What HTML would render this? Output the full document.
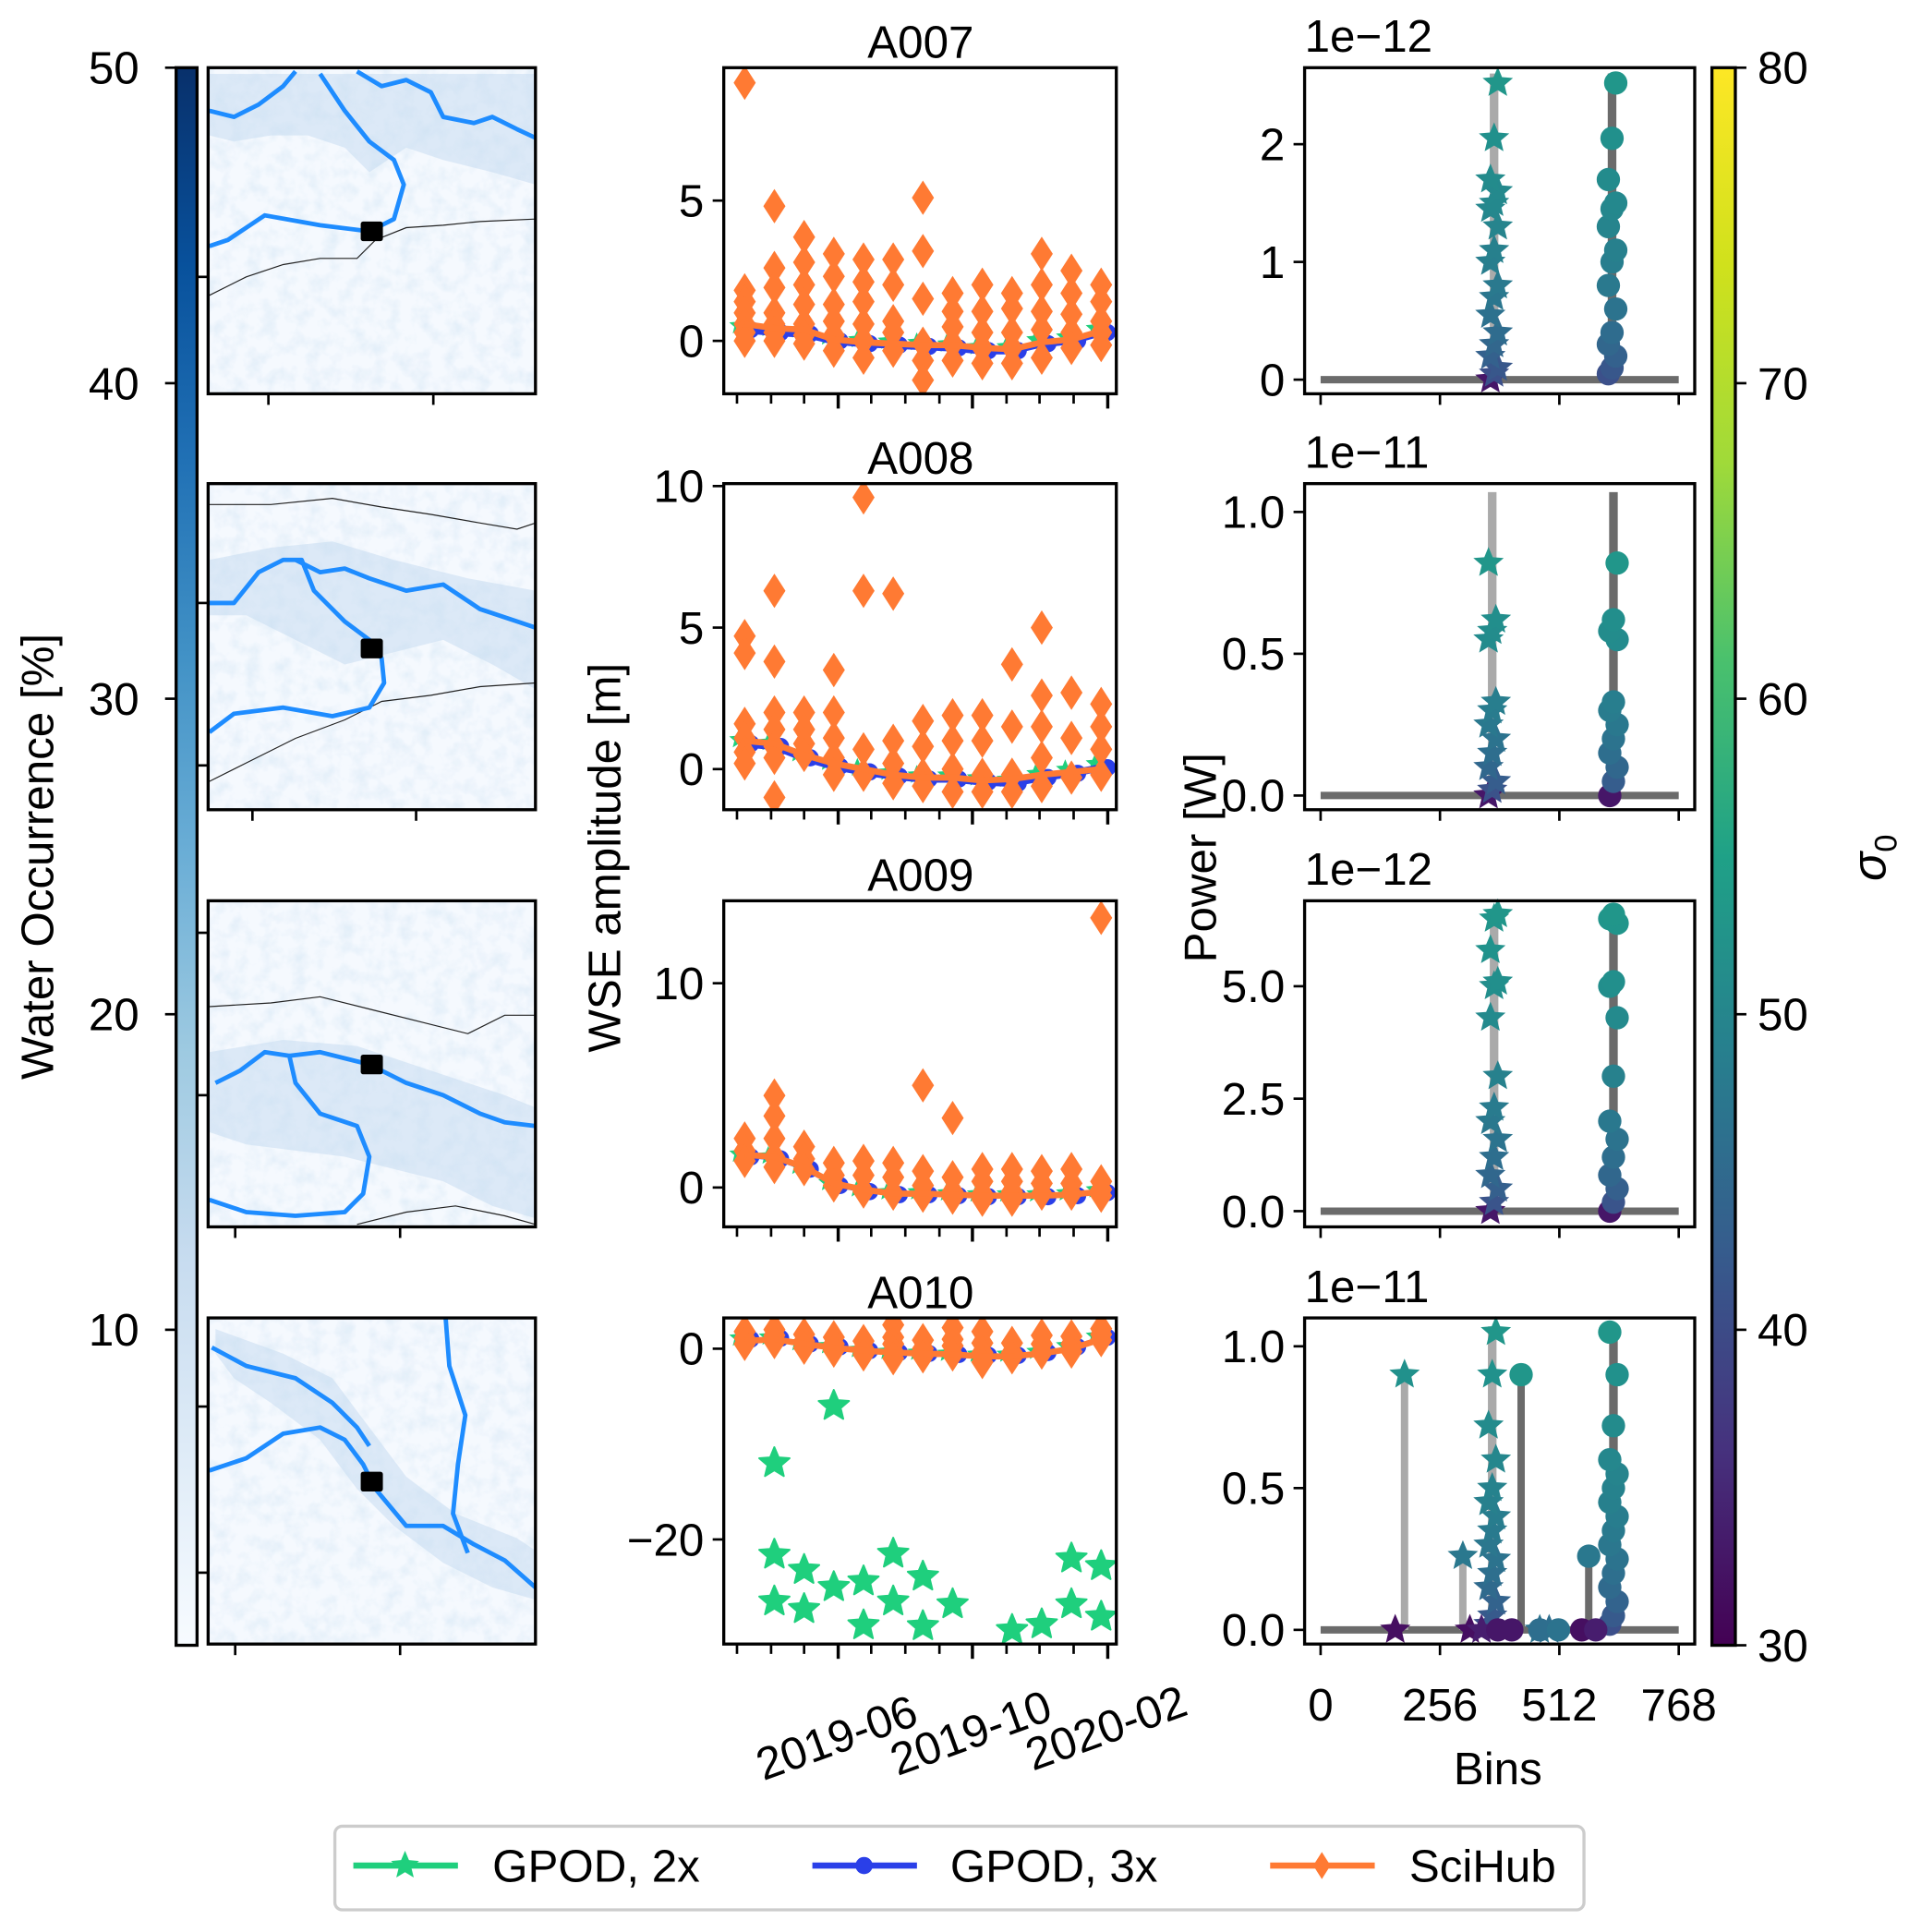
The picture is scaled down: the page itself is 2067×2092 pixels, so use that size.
<!DOCTYPE html>
<html><head><meta charset="utf-8">
<style>
html,body{margin:0;padding:0;background:#fff;}
svg{display:block;font-family:"Liberation Sans",Arial,sans-serif;}
</style></head>
<body>
<svg id="fig" xmlns="http://www.w3.org/2000/svg" width="2067" height="2092" viewBox="0 0 1551 1570">
<defs>
<linearGradient id="blues" x1="0" y1="1" x2="0" y2="0">
<stop offset="0" stop-color="#f7fbff"/><stop offset="0.125" stop-color="#deebf7"/><stop offset="0.25" stop-color="#c6dbef"/><stop offset="0.375" stop-color="#9ecae1"/><stop offset="0.5" stop-color="#6baed6"/><stop offset="0.625" stop-color="#4292c6"/><stop offset="0.75" stop-color="#2171b5"/><stop offset="0.875" stop-color="#08519c"/><stop offset="1" stop-color="#08306b"/>
</linearGradient>
<linearGradient id="viridis" x1="0" y1="1" x2="0" y2="0">
<stop offset="0" stop-color="#440154"/><stop offset="0.125" stop-color="#46327e"/><stop offset="0.25" stop-color="#365c8d"/><stop offset="0.375" stop-color="#277f8e"/><stop offset="0.5" stop-color="#1fa187"/><stop offset="0.625" stop-color="#4ac16d"/><stop offset="0.75" stop-color="#a0da39"/><stop offset="0.875" stop-color="#d0e11c"/><stop offset="1" stop-color="#fde725"/>
</linearGradient>
<filter id="mottle" x="0" y="0" width="1" height="1">
<feTurbulence type="fractalNoise" baseFrequency="0.08" numOctaves="3" seed="4"/>
<feColorMatrix type="matrix" values="0 0 0 0 0.55  0 0 0 0 0.72  0 0 0 0 0.87  0 0 0 2.2 -0.9"/>
</filter>
</defs>
<g id="root"></g>
</svg>
<script>
// ---------- data ----------
const cycleStart = "2019-03-08";
const cycleDays = 27;
const monthTicks = ["2019-03-01","2019-04-01","2019-05-01","2019-06-01","2019-07-01","2019-08-01","2019-09-01","2019-10-01","2019-11-01","2019-12-01","2020-01-01","2020-02-01"];
const majorTickLabels = ["2019-06","2019-10","2020-02"];
const panelTitles = ["A007","A008","A009","A010"];

const scihubA007 = [[9.2,1.8,1.4,1.0,0.6,0.3,0.0],[4.8,2.6,1.9,1.0,0.6,0.3,0.0],[3.7,2.8,2.0,1.3,0.6,0.2,-0.1],[3.1,2.3,1.3,0.7,0.2,-0.35],[2.9,2.1,1.4,0.6,0.0,-0.6],[2.9,2.0,0.7,0.3,-0.35],[5.1,3.2,1.5,-0.1,-0.7,-1.4],[1.7,1.05,0.5,-0.1,-0.7],[2.0,1.05,0.3,-0.25,-0.8],[1.7,1.15,0.3,-0.25,-0.8],[3.1,2.0,1.05,0.4,-0.6],[2.5,1.7,0.95,0.3,-0.25],[2.0,1.4,0.7,0.3,-0.15]];
const scihubA008 = [[4.7,4.1,1.6,1.1,0.6,0.2],[6.3,3.8,2.0,1.4,0.8,0.4,-1.0],[2.0,1.4,0.9,0.5],[3.5,2.0,1.1,0.4,-0.2],[9.6,6.3,0.7,-0.2],[6.2,1.0,0.2,-0.5],[1.7,0.8,-0.2,-0.6],[1.9,1.0,0.0,-0.8],[1.9,1.0,-0.2,-0.8],[3.7,1.5,-0.2,-0.8],[5.0,2.6,1.5,0.4,-0.6],[2.7,1.1,-0.3],[2.3,1.5,0.7,-0.2]];
const scihubA009 = [[2.4,1.8,1.3],[4.5,3.5,2.4,1.5,1.0],[2.0,1.4,0.9],[1.2,0.6,0.1],[1.3,0.6,-0.2],[1.2,0.5,-0.3],[5.0,0.8,0.1,-0.4],[3.4,0.5,-0.2,-0.5],[0.9,0.3,-0.3,-0.6],[0.9,0.3,-0.2,-0.6],[0.8,0.2,-0.3],[0.9,0.2,-0.3],[13.2,0.3,-0.1,-0.4]];
const scihubA010 = [[1.8,1.1,0.5],[2.0,1.4,0.7],[1.5,0.8,0.1],[1.2,0.5,-0.2],[0.8,0.0,-0.6],[2.5,1.2,0.5,-0.3,-1.0],[0.9,0.0,-0.8],[2.2,1.0,0.3,-0.6],[1.8,0.6,-0.4,-1.4],[0.6,-0.4,-0.9],[1.4,0.5,-0.4],[1.3,0.5,-0.3],[2.1,1.5,0.9]];
const scihubLineA007 = [0.6,0.45,0.4,0.05,-0.05,-0.1,-0.15,-0.15,-0.25,-0.3,-0.05,0.05,0.35];
const scihubLineA008 = [1.0,0.9,0.5,0.2,0.0,-0.2,-0.3,-0.3,-0.4,-0.35,-0.2,-0.1,0.0];
const scihubLineA009 = [1.6,1.5,1.0,0.2,-0.1,-0.3,-0.3,-0.35,-0.4,-0.4,-0.4,-0.35,-0.2];
const scihubLineA010 = [0.8,1.0,0.5,0.1,-0.2,-0.4,-0.5,-0.6,-0.8,-0.8,-0.5,0.0,1.0];
const gpod3LineA007 = [0.4,0.3,0.25,0.0,-0.1,-0.15,-0.2,-0.25,-0.35,-0.35,-0.1,0.0,0.3];
const gpod3LineA008 = [0.9,0.8,0.4,0.1,-0.1,-0.25,-0.35,-0.35,-0.45,-0.5,-0.3,-0.15,0.05];
const gpod3LineA009 = [1.5,1.4,0.9,0.1,-0.2,-0.35,-0.35,-0.4,-0.45,-0.45,-0.45,-0.4,-0.25];
const gpod3LineA010 = [1.0,1.1,0.5,0.2,-0.2,-0.4,-0.5,-0.6,-0.7,-0.7,-0.4,0.2,1.2];
const gpod2OutlierDateIdxA010 = [1,1,1,2,2,3,3,4,4,5,5,6,6,7,9,10,11,11,12,12];
const gpod2OutlierValsA010 = [-12,-21.6,-26.5,-23.2,-27.3,-6,-25,-24.4,-29,-21.5,-26.5,-23.9,-29.1,-26.8,-29.5,-28.9,-22,-26.8,-22.8,-28.1];

// spectra panels
const specScale = ["1e\u221212","1e\u221211","1e\u221212","1e\u221211"];
const specYTicks = [[0,1,2],[0.0,0.5,1.0],[0.0,2.5,5.0],[0.0,0.5,1.0]];
const specYTickLabels = [["0","1","2"],["0.0","0.5","1.0"],["0.0","2.5","5.0"],["0.0","0.5","1.0"]];
const specYMax = [2.65,1.1,6.9,1.1];
const specYMin = [-0.12,-0.05,-0.35,-0.05];
const starVals1 = [2.52,2.05,1.7,1.6,1.5,1.45,1.3,1.1,1.0,0.8,0.7,0.55,0.4,0.3,0.2,0.1,0.05,0.0];
const starVals2 = [0.82,0.62,0.58,0.55,0.33,0.3,0.25,0.2,0.15,0.1,0.05,0.02,0.0];
const starVals3 = [6.6,6.5,5.8,5.1,5.0,4.3,3.0,2.3,2.0,1.6,1.2,0.8,0.5,0.2,0.0];
const starVals4 = [1.05,0.9,0.72,0.6,0.5,0.45,0.4,0.35,0.3,0.25,0.2,0.15,0.1,0.05,0.02];
const circVals1 = [2.52,2.05,1.7,1.5,1.45,1.3,1.1,1.0,0.8,0.6,0.4,0.3,0.2,0.1,0.05];
const circVals2 = [0.82,0.62,0.58,0.55,0.33,0.3,0.25,0.2,0.15,0.1,0.05,0.0];
const circVals3 = [6.6,6.5,6.4,5.1,5.0,4.3,3.0,2.0,1.6,1.2,0.8,0.5,0.2,0.0];
const circVals4 = [1.05,0.9,0.72,0.6,0.55,0.5,0.45,0.4,0.35,0.3,0.25,0.2,0.15,0.1,0.05,0.02];
const starBin = [372,368,372,368];
const circBin = [625,628,628,628];
const stemTop = [2.6,1.07,6.6,1.07];
const extraStarBins4 = [180,160,305,320,345,470,490];
const extraStarVals4 = [0.9,0.0,0.26,0.0,0.0,0.0,0.0];
const extraStarSig4 = [55,32,50,32,34,49,48];
const extraCircBins4 = [430,380,410,575,560,590,470,510];
const extraCircVals4 = [0.9,0.0,0.0,0.26,0.0,0.0,0.0,0.0];
const extraCircSig4 = [56,33,33,50,32,34,48,49];
const binTicks = [0,256,512,768];
const sigmaTicks = [30,40,50,60,70,80];
const occTicks = [10,20,30,40,50];

// ---------- helpers ----------
const NS="http://www.w3.org/2000/svg";
const root=document.getElementById('root');
function mk(tag,attrs,parent){const e=document.createElementNS(NS,tag);for(const k in attrs)e.setAttribute(k,attrs[k]);(parent||root).appendChild(e);return e;}
function txt(s,x,y,size,anchor,parent,extra){const e=mk('text',Object.assign({x:x,y:y,'font-size':size,'text-anchor':anchor||'middle',fill:'#000'},extra||{}),parent);e.textContent=s;return e;}
function dayNum(s){return Date.parse(s+"T00:00:00Z")/86400000;}
const viridisStops=["#440154","#482475","#414487","#355f8d","#2a788e","#21918c","#22a884","#44bf70","#7ad151","#bddf26","#fde725"];
function hex2rgb(h){return [parseInt(h.slice(1,3),16),parseInt(h.slice(3,5),16),parseInt(h.slice(5,7),16)];}
function viridis(t){t=Math.max(0,Math.min(1,t));const p=t*10,i=Math.min(9,Math.floor(p)),f=p-i;const a=hex2rgb(viridisStops[i]),b=hex2rgb(viridisStops[i+1]);return 'rgb('+a.map((v,k)=>Math.round(v+(b[k]-v)*f)).join(',')+')';}
function sigColor(s){return viridis((s-30)/50);}
function starPath(cx,cy,r){let d='';for(let i=0;i<10;i++){const a=-Math.PI/2+i*Math.PI/5,rr=i%2?r*0.45:r;d+=(i?'L':'M')+(cx+rr*Math.cos(a)).toFixed(1)+','+(cy+rr*Math.sin(a)).toFixed(1);}return d+'Z';}
function diamond(cx,cy,w,h){return `M${cx},${cy-h}L${cx+w},${cy}L${cx},${cy+h}L${cx-w},${cy}Z`;}

const rowTop=[55,393,732,1071], rowH=265;
const FS=37, DY=13;

// ---------- left colorbar ----------
const cb=mk('g',{});


mk('rect',{x:143,y:55,width:17,height:1282,fill:'url(#blues)',stroke:'#000','stroke-width':2.5},cb);
const occY=v=>1337-(v/50)*1282;
occTicks.forEach(v=>{mk('line',{x1:134,x2:143,y1:occY(v),y2:occY(v),stroke:'#000','stroke-width':2},cb);
 const t=txt(String(v),113,occY(v)+DY,FS,'end',cb);});
const ol=txt('Water Occurrence [%]',0,0,FS,'middle',cb,{transform:'translate(43,696) rotate(-90)'});


// ---------- maps ----------
const mapTicks=[[218,352],[205,338],[191,325],[191,325]];
const mapYTicks=[[225],[490,622],[758,890],[1143,1278]];
const rivers=[
 ["M170,200 L185,195 L215,175 L260,183 L300,188 L320,178 L328,150 L320,130 L300,115 L280,90 L260,60","M170,90 L190,95 L210,85 L230,70 L240,58","M290,58 L310,70 L330,65 L350,75 L360,95 L385,100 L400,95 L420,105 L435,112"],
 ["M170,595 L190,580 L230,575 L270,582 L300,575 L312,555 L310,535 L300,520 L280,505 L255,480 L245,455 L230,455 L210,465 L190,490 L170,490","M240,455 L260,465 L280,462 L300,470 L330,480 L360,475 L390,495 L420,505 L435,510"],
 ["M170,975 L200,985 L240,988 L280,985 L295,970 L300,940 L290,915 L260,905 L240,880 L235,858 L215,855 L195,870 L175,880","M235,858 L260,855 L300,865 L330,880 L360,890 L390,905 L410,912 L435,915"],
 ["M170,1195 L200,1185 L230,1165 L260,1160 L280,1170 L295,1190 L305,1210 L330,1240 L360,1240 L385,1255 L410,1268 L435,1290","M172,1095 L200,1110 L240,1120 L270,1140 L290,1160 L300,1175","M362,1071 L365,1110 L378,1150 L372,1190 L368,1230 L380,1262"]
];
const borders=[
 ["M170,240 L200,225 L230,215 L260,210 L290,210 L305,195 L330,185 L360,183 L390,180 L435,178"],
 ["M170,410 L220,410 L270,405 L310,412 L350,418 L390,425 L420,430 L435,425","M170,635 L200,620 L240,600 L280,585 L310,570 L350,565 L390,558 L435,555"],
 ["M170,818 L220,815 L260,810 L300,820 L340,830 L380,840 L410,825 L435,825","M290,995 L330,985 L370,980 L410,988 L435,995"],
 []
];
const blobs=[
 "M170,60 L435,60 L435,150 L400,140 L360,130 L330,120 L300,140 L280,120 L250,110 L220,110 L190,115 L170,110Z",
 "M170,455 L220,445 L270,440 L320,455 L380,470 L435,480 L435,560 L400,540 L360,520 L320,530 L280,540 L240,520 L200,500 L170,500Z",
 "M170,855 L230,845 L290,850 L350,870 L410,890 L435,900 L435,990 L400,980 L360,960 L320,950 L280,940 L240,935 L200,930 L170,920Z",
 "M175,1080 L230,1100 L270,1120 L300,1160 L330,1200 L370,1230 L420,1250 L435,1260 L435,1300 L400,1290 L360,1270 L320,1240 L290,1210 L260,1170 L220,1140 L190,1120 L175,1100Z"
];
const markers=[[302,188],[302,527],[302,865],[302,1204]];
for(let r=0;r<4;r++){
 const g=mk('g',{});
 
 
 const y0=rowTop[r];
 const cp=mk('clipPath',{id:'clipmap'+r},g);mk('rect',{x:169,y:y0,width:266,height:rowH},cp);
 const mg=mk('g',{'clip-path':'url(#clipmap'+r+')'},g);
 mk('rect',{x:169,y:y0,width:266,height:rowH,fill:'#f5f9fe'},mg);
 mk('path',{d:blobs[r],fill:'#d2e3f3',opacity:0.7},mg);
 mk('rect',{x:169,y:y0,width:266,height:rowH,filter:'url(#mottle)',opacity:0.35},mg);
 borders[r].forEach(d=>mk('path',{d:d,fill:'none',stroke:'#222','stroke-width':0.9},mg));
 rivers[r].forEach(d=>mk('path',{d:d,fill:'none',stroke:'#1e8cff','stroke-width':3.6,'stroke-linejoin':'round'},mg));
 mk('rect',{x:markers[r][0]-9,y:markers[r][1]-8,width:18,height:16,rx:2,fill:'#000'},mg);
 mk('rect',{x:169,y:y0,width:266,height:rowH,fill:'none',stroke:'#000','stroke-width':2.5},g);
 mapTicks[r].forEach(x=>mk('line',{x1:x,x2:x,y1:y0+rowH,y2:y0+rowH+9,stroke:'#000','stroke-width':2},g));
 mapYTicks[r].forEach(y=>mk('line',{x1:160,x2:169,y1:y,y2:y,stroke:'#000','stroke-width':2},g));
}

// ---------- middle time series ----------
const tsX0=588,tsX1=907;
const jun1=dayNum("2019-06-01");
const xT=d=>681+0.894*(d-jun1);
const startDay=dayNum(cycleStart);
const dates=scihubA007.map((_,i)=>startDay+i*cycleDays);
const tsData=[scihubA007,scihubA008,scihubA009,scihubA010];
const tsLines=[scihubLineA007,scihubLineA008,scihubLineA009,scihubLineA010];
const gpLines=[gpod3LineA007,gpod3LineA008,gpod3LineA009,gpod3LineA010];
const tsY=[[0,277,22.8],[0,625,23],[0,965,16.6],[0,1096,7.75]];
const tsYTicks=[[0,5],[0,5,10],[0,10],[0,-20]];
for(let r=0;r<4;r++){
 const g=mk('g',{});
 
 
 const y0=rowTop[r];
 const yv=v=>tsY[r][1]-v*tsY[r][2];
 mk('rect',{x:tsX0,y:y0,width:tsX1-tsX0,height:rowH,fill:'#fff'},g);
 const clip=mk('clipPath',{id:'clipts'+r},g);mk('rect',{x:tsX0,y:y0,width:tsX1-tsX0,height:rowH},clip);
 const pg=mk('g',{'clip-path':'url(#clipts'+r+')'},g);
 dates.forEach((d,i)=>{const s=mk('path',{d:starPath(xT(d)-5,yv(gpLines[r][i]+0.15),8),fill:'#1fcf7d'},pg);});
 dates.forEach((d,i)=>{const c=mk('circle',{cx:xT(d)+5,cy:yv(gpLines[r][i]),r:7,fill:'#2a3fe8'},pg);});
 const gl=mk('polyline',{points:dates.map((d,i)=>xT(d)+','+yv(gpLines[r][i])).join(' '),fill:'none',stroke:'#2a3fe8','stroke-width':r<2?6:2},pg);
 
 tsData[r].forEach((vals,i)=>vals.forEach(v=>{const p=mk('path',{d:diamond(xT(dates[i]),yv(v),9,14),fill:'#ff7a33'},pg);}));
 const sl=mk('polyline',{points:dates.map((d,i)=>xT(d)+','+yv(tsLines[r][i])).join(' '),fill:'none',stroke:'#ff7a33','stroke-width':5},pg);
 
 if(r===3){gpod2OutlierValsA010.forEach((v,k)=>{const s=mk('path',{d:starPath(xT(dates[gpod2OutlierDateIdxA010[k]]),yv(v),13),fill:'#1fcf7d','stroke':'#1fcf7d','stroke-width':1.5,'stroke-linejoin':'round'},pg);});}
 mk('rect',{x:tsX0,y:y0,width:tsX1-tsX0,height:rowH,fill:'none',stroke:'#000','stroke-width':2.5},g);
 tsYTicks[r].forEach(v=>{mk('line',{x1:tsX0-9,x2:tsX0,y1:yv(v),y2:yv(v),stroke:'#000','stroke-width':2},g);
  const t=txt(String(v).replace('-','\u2212'),tsX0-16,yv(v)+DY,FS,'end',g);});
 monthTicks.forEach(m=>{const d=dayNum(m),maj=/-(06|10|02)-/.test(m);mk('line',{x1:xT(d),x2:xT(d),y1:y0+rowH,y2:y0+rowH+(maj?12:8),stroke:'#000','stroke-width':maj?2.6:2},g);});
 const tt=txt(panelTitles[r],748,y0-8,FS,'middle',g);
}
majorTickLabels.forEach((s,i)=>{const d=dayNum(s+"-01");const x=xT(d);const t=txt(s,0,0,FS,'middle',root,{transform:`translate(${x+3},${1424-i*4}) rotate(-20)`});});
const wl=txt('WSE amplitude [m]',0,0,FS,'middle',root,{transform:'translate(504,697) rotate(-90)'});


// ---------- right spectra ----------
const spX0=1060,spX1=1377;
const xB=b=>1073+b*(291/768);
const starSets=[starVals1,starVals2,starVals3,starVals4];
const circSets=[circVals1,circVals2,circVals3,circVals4];
const sigOf=(v,m)=>v<=0.001*m?33:36+20*Math.pow(v/m,0.3);
for(let r=0;r<4;r++){
 const g=mk('g',{});
 
 
 const y0=rowTop[r];
 const yv=v=>y0+rowH-(v-specYMin[r])/(specYMax[r]-specYMin[r])*rowH;
 mk('rect',{x:spX0,y:y0,width:spX1-spX0,height:rowH,fill:'#fff'},g);
 mk('line',{x1:xB(0),x2:xB(768),y1:yv(0),y2:yv(0),stroke:'#6b6b6b','stroke-width':6},g);
 mk('line',{x1:xB(starBin[r]),x2:xB(starBin[r]),y1:yv(0),y2:yv(stemTop[r]),stroke:'#aaa','stroke-width':7},g);
 mk('line',{x1:xB(circBin[r]),x2:xB(circBin[r]),y1:yv(0),y2:yv(stemTop[r]),stroke:'#6b6b6b','stroke-width':7},g);
 if(r===3){
  extraStarBins4.forEach((b,k)=>{if(extraStarVals4[k]>0)mk('line',{x1:xB(b),x2:xB(b),y1:yv(0),y2:yv(extraStarVals4[k]),stroke:'#aaa','stroke-width':6},g);});
  extraCircBins4.forEach((b,k)=>{if(extraCircVals4[k]>0)mk('line',{x1:xB(b),x2:xB(b),y1:yv(0),y2:yv(extraCircVals4[k]),stroke:'#6b6b6b','stroke-width':6},g);});
 }
 const smax=Math.max(...starSets[r]),cmax=Math.max(...circSets[r]);
 starSets[r].slice().reverse().forEach((v,k)=>{const s=mk('path',{d:starPath(xB(starBin[r])+((k%3)-1)*3,yv(v),13),fill:sigColor(sigOf(v,smax))},g);});
 circSets[r].slice().reverse().forEach((v,k)=>{const c=mk('circle',{cx:xB(circBin[r])+((k%3)-1)*3,cy:yv(v),r:9.5,fill:sigColor(sigOf(v,cmax))},g);});
 if(r===3){
  extraStarBins4.forEach((b,k)=>{const s=mk('path',{d:starPath(xB(b),yv(extraStarVals4[k]),13),fill:sigColor(extraStarSig4[k])},g);});
  extraCircBins4.forEach((b,k)=>{const c=mk('circle',{cx:xB(b),cy:yv(extraCircVals4[k]),r:9.5,fill:sigColor(extraCircSig4[k])},g);});
 }
 mk('rect',{x:spX0,y:y0,width:spX1-spX0,height:rowH,fill:'none',stroke:'#000','stroke-width':2.5},g);
 specYTicks[r].forEach((v,k)=>{mk('line',{x1:spX0-9,x2:spX0,y1:yv(v),y2:yv(v),stroke:'#000','stroke-width':2},g);
  const t=txt(specYTickLabels[r][k],spX0-16,yv(v)+DY,FS,'end',g);});
 binTicks.forEach(b=>mk('line',{x1:xB(b),x2:xB(b),y1:y0+rowH,y2:y0+rowH+9,stroke:'#000','stroke-width':2},g));
 const st=txt(specScale[r],1060,y0-13,FS,'start',g);
}
binTicks.forEach(b=>{const t=txt(String(b),xB(b),1398,FS,'middle');});
const bl=txt('Bins',1217,1450,FS,'middle');
const pl=txt('Power [W]',0,0,FS,'middle',root,{transform:'translate(988,697) rotate(-90)'});


// ---------- sigma colorbar ----------
const vc=mk('g',{});


mk('rect',{x:1391,y:55,width:19,height:1282,fill:'url(#viridis)',stroke:'#000','stroke-width':2.5},vc);
const sY=s=>1337-(s-30)/50*1282;
sigmaTicks.forEach(s=>{mk('line',{x1:1410,x2:1419,y1:sY(s),y2:sY(s),stroke:'#000','stroke-width':2},vc);
 const t=txt(String(s),1428,sY(s)+DY,FS,'start',vc);});
const sl2=mk('text',{x:0,y:0,'font-size':FS+2,'text-anchor':'middle',transform:'translate(1532,697) rotate(-90)'},vc);

const t1=mk('tspan',{'font-style':'italic'},sl2);t1.textContent='σ';
const t2=mk('tspan',{'font-size':26,dy:9},sl2);t2.textContent='0';

// ---------- legend ----------
const lg=mk('g',{});


mk('rect',{x:272,y:1484,width:1015,height:68,rx:6,fill:'#fff',stroke:'#ccc','stroke-width':2.5},lg);
const e1=mk('g',{},lg);
mk('line',{x1:287,x2:372,y1:1516,y2:1516,stroke:'#1fcf7d','stroke-width':5},e1);
mk('path',{d:starPath(329,1516,12),fill:'#1fcf7d'},e1);
txt('GPOD, 2x',400,1529,FS,'start',e1);
const e2=mk('g',{},lg);
mk('line',{x1:660,x2:745,y1:1516,y2:1516,stroke:'#2a3fe8','stroke-width':5},e2);
mk('circle',{cx:702,cy:1516,r:7,fill:'#2a3fe8'},e2);
txt('GPOD, 3x',772,1529,FS,'start',e2);
const e3=mk('g',{},lg);
mk('line',{x1:1032,x2:1117,y1:1516,y2:1516,stroke:'#ff7a33','stroke-width':5},e3);
mk('path',{d:diamond(1074,1516,7,11),fill:'#ff7a33'},e3);
txt('SciHub',1145,1529,FS,'start',e3);
</script>
</body></html>
